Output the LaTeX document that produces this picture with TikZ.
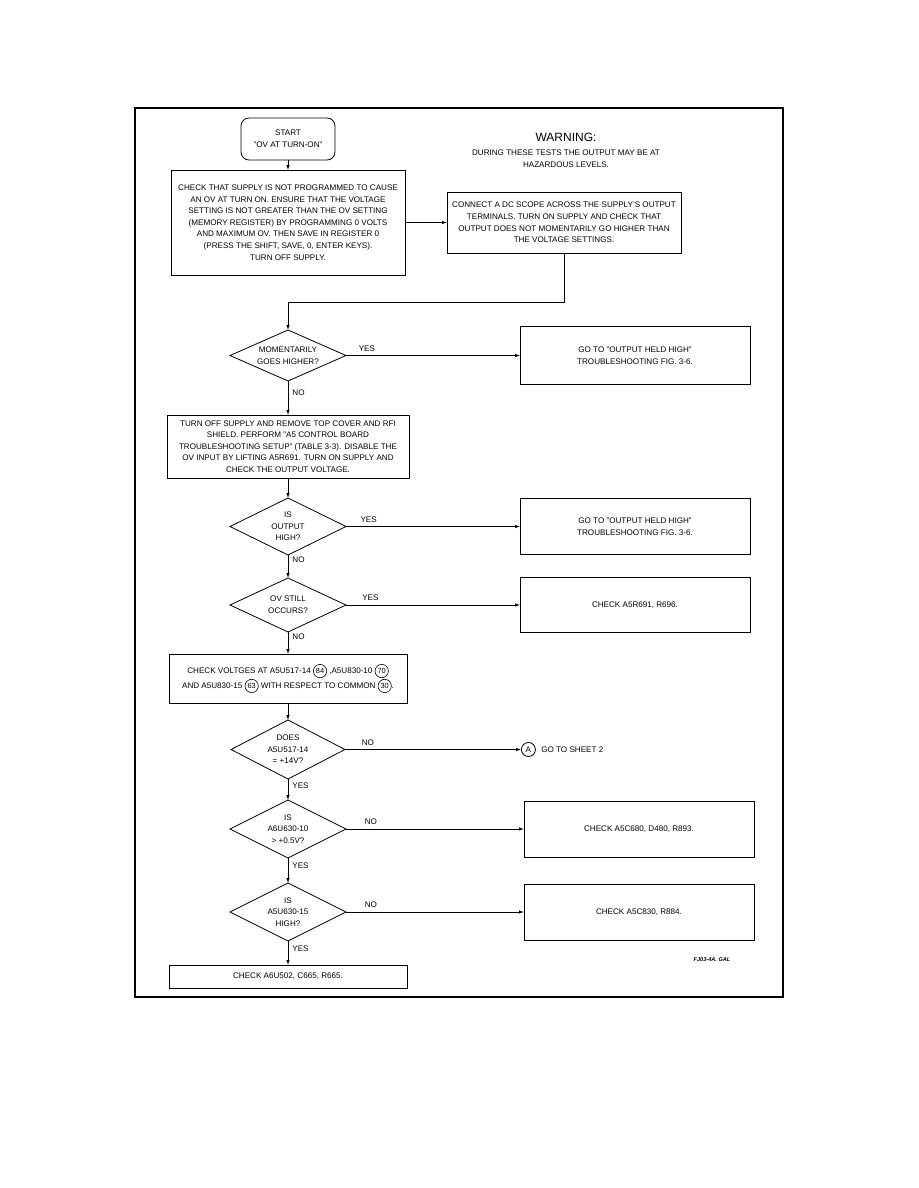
\documentclass[tikz,border=0pt]{standalone}
\usepackage{fontspec}
\setmainfont{Liberation Sans}
\usepackage{tikz}
\usetikzlibrary{shapes.geometric, arrows.meta, positioning}

\newcommand{\cnum}[1]{\tikz[baseline=(cn.base)]{\node[draw, circle, line width=0.6pt, inner sep=1.3pt, minimum size=0pt, outer sep=0pt, font=\fontsize{7.4}{8}\selectfont] (cn) {#1};}}

\begin{document}
\begin{tikzpicture}[
    x=1pt, y=-1pt,
    txt/.style={font=\fontsize{8.1}{11.6}\selectfont},
    box/.style={
      draw,
      line width=0.8pt,
      align=center,
      txt,
      inner sep=2pt,
      outer sep=0pt
    },
    rbox/.style={box, minimum width=230pt, minimum height=57pt},
    dia/.style={
      draw,
      diamond,
      line width=0.8pt,
      inner sep=0pt,
      outer sep=0pt,
      minimum width=116pt,
      minimum height=56pt
    },
    dtxt/.style={align=center, txt},
    yn/.style={txt, inner sep=1pt},
    arrow/.style={-{Latex[length=5pt, width=3.5pt]}, line width=0.8pt}
  ]
    \useasboundingbox (0,0) rectangle (918,1188);
    \draw[line width=1.6pt] (135,108) rectangle (783,997);

    % top
    \node[box, rounded corners=8pt, minimum width=94pt, minimum height=42pt] (start) at (288,139) {START\\"OV AT TURN-ON"};
    \node[box, minimum width=234pt, minimum height=105pt, below=10pt of start] (setup) {CHECK THAT SUPPLY IS NOT PROGRAMMED TO CAUSE\\AN OV AT TURN ON. ENSURE THAT THE VOLTAGE\\SETTING IS NOT GREATER THAN THE OV SETTING\\(MEMORY REGISTER) BY PROGRAMMING 0 VOLTS\\AND MAXIMUM OV. THEN SAVE IN REGISTER 0\\(PRESS THE SHIFT, SAVE, 0, ENTER KEYS).\\TURN OFF SUPPLY.};
    \node[box, minimum width=234pt, minimum height=61pt, right=42pt of setup] (scope) {CONNECT A DC SCOPE ACROSS THE SUPPLY'S OUTPUT\\TERMINALS. TURN ON SUPPLY AND CHECK THAT\\OUTPUT DOES NOT MOMENTARILY GO HIGHER THAN\\THE VOLTAGE SETTINGS.};

    \node[font=\fontsize{12}{14}\selectfont] (warn) at (566,137) {WARNING:};
    \node[txt, align=center, below=2pt of warn] (hazard) {DURING THESE TESTS THE OUTPUT MAY BE AT\\HAZARDOUS LEVELS.};

    % main column
    \node[dia, minimum height=51pt, below=55pt of setup, label={[dtxt]center:MOMENTARILY\\GOES HIGHER?}] (momentary) {};
    \node[rbox, minimum height=58pt, right=174pt of momentary] (heldhigh1) {GO TO "OUTPUT HELD HIGH"\\TROUBLESHOOTING FIG. 3-6.};

    \node[box, minimum width=242pt, minimum height=63pt, below=34pt of momentary] (disable) {TURN OFF SUPPLY AND REMOVE TOP COVER AND RFI\\SHIELD. PERFORM "A5 CONTROL BOARD\\TROUBLESHOOTING SETUP" (TABLE 3-3). DISABLE THE\\OV INPUT BY LIFTING A5R691. TURN ON SUPPLY AND\\CHECK THE OUTPUT VOLTAGE.};

    \node[dia, minimum height=57pt, below=20pt of disable, label={[dtxt]center:IS\\OUTPUT\\HIGH?}] (outhigh) {};
    \node[rbox, minimum height=56pt, right=174pt of outhigh] (heldhigh2) {GO TO "OUTPUT HELD HIGH"\\TROUBLESHOOTING FIG. 3-6.};

    \node[dia, minimum height=54pt, below=23pt of outhigh, label={[dtxt]center:OV STILL\\OCCURS?}] (ovstill) {};
    \node[rbox, minimum height=55pt, right=174pt of ovstill] (checkr) {CHECK A5R691, R696.};

    \node[box, minimum width=238pt, minimum height=49pt, below=22pt of ovstill] (volts) {CHECK VOLTGES AT A5U517-14 \cnum{84} ,A5U830-10 \cnum{70}\\AND A5U830-15 \cnum{63} WITH RESPECT TO COMMON \cnum{30}.};

    \node[dia, minimum width=114pt, minimum height=59pt, below=17pt of volts, label={[dtxt]center:DOES\\A5U517-14\\= +14V?}] (does) {};
    \node[draw, circle, line width=0.8pt, inner sep=0.8pt, minimum size=14pt, txt, right=176pt of does] (sheetA) {A};
    \node[txt, right=2pt of sheetA] (sheet) {GO TO SHEET 2};

    \node[dia, minimum height=58pt, below=21pt of does, label={[dtxt]center:IS\\A6U630-10\\> +0.5V?}] (isten) {};
    \node[rbox, minimum height=56pt, right=178pt of isten] (checkc) {CHECK A5C680, D480, R893.};

    \node[dia, minimum height=58pt, below=25pt of isten, label={[dtxt]center:IS\\A5U630-15\\HIGH?}] (isfif) {};
    \node[rbox, minimum height=56pt, right=178pt of isfif] (checkd) {CHECK A5C830, R884.};

    \node[box, minimum width=238pt, minimum height=23pt, below=24pt of isfif] (final) {CHECK A6U502, C665, R665.};

    \node[font=\fontsize{5.6}{6}\selectfont\bfseries\itshape] (figno) at (712,960) {FJ03-4A. GAL};

    \coordinate (join) at (288,302);

    \draw[arrow] (start) -- (setup);
    \draw[arrow] (setup) -- (scope);
    \draw[arrow] (scope.south) |- (join) -- (momentary.north);
    \draw[arrow] (momentary.east) -- node[yn, pos=0.12, above=3pt] {YES} (heldhigh1);
    \draw[arrow] (momentary.south) -- node[yn, pos=0.35, right=3pt] {NO} (disable);
    \draw[arrow] (disable) -- (outhigh.north);
    \draw[arrow] (outhigh.east) -- node[yn, pos=0.13, above=3pt] {YES} (heldhigh2);
    \draw[arrow] (outhigh.south) -- node[yn, pos=0.2, right=3pt] {NO} (ovstill.north);
    \draw[arrow] (ovstill.east) -- node[yn, pos=0.14, above=3pt] {YES} (checkr);
    \draw[arrow] (ovstill.south) -- node[yn, pos=0.2, right=3pt] {NO} (volts);
    \draw[arrow] (volts) -- (does.north);
    \draw[arrow] (does.east) -- node[yn, pos=0.13, above=3pt] {NO} (sheetA);
    \draw[arrow] (does.south) -- node[yn, pos=0.3, right=3pt] {YES} (isten.north);
    \draw[arrow] (isten.east) -- node[yn, pos=0.14, above=3pt] {NO} (checkc);
    \draw[arrow] (isten.south) -- node[yn, pos=0.3, right=3pt] {YES} (isfif.north);
    \draw[arrow] (isfif.east) -- node[yn, pos=0.14, above=3pt] {NO} (checkd);
    \draw[arrow] (isfif.south) -- node[yn, pos=0.3, right=3pt] {YES} (final);
  \end{tikzpicture}
\end{document}
